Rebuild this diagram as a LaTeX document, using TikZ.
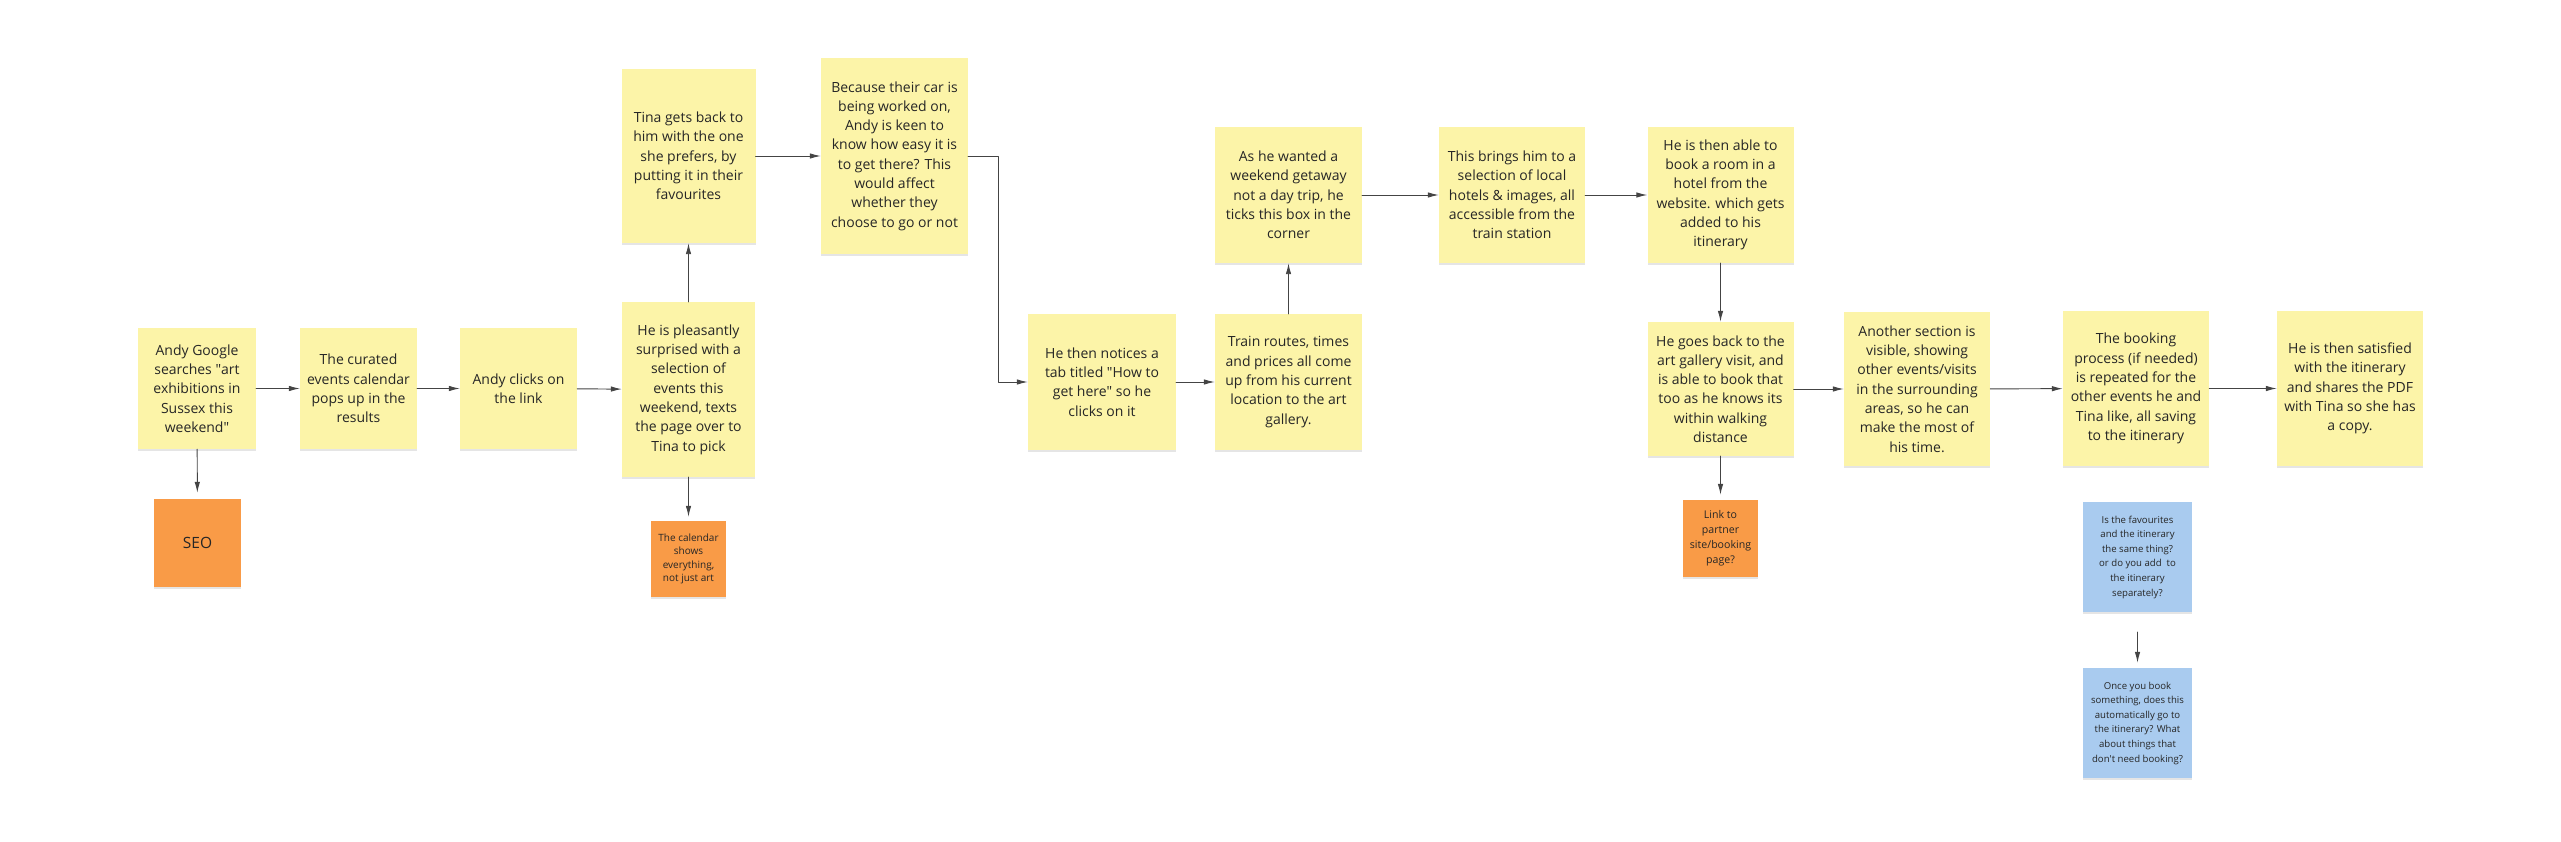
\documentclass[tikz,border=0pt]{standalone}
\usepackage{fontspec}
\setmainfont{Open Sans}
\usetikzlibrary{arrows.meta}
\usetikzlibrary{shadows}
\definecolor{notey}{HTML}{FCF4A8}
\definecolor{noteo}{HTML}{F99B47}
\definecolor{noteb}{HTML}{A9CBEF}
\definecolor{inkc}{HTML}{262626}
\definecolor{linec}{HTML}{444444}

\begin{document}
\begin{tikzpicture}[line cap=round,line join=round,>={Latex[length=11pt,width=5.5pt]},x=1pt,y=-1pt,
  card/.style 2 args={minimum width=#1pt,minimum height=#2pt,inner sep=0pt,align=center,text=inkc,
    drop shadow={shadow xshift=0pt,shadow yshift=-1.5pt,fill=black,opacity=0.10}},
  yel/.style={fill=notey,font=\fontsize{14}{19.3}\selectfont},
  ora/.style={fill=noteo},
  blu/.style={fill=noteb,font=\fontsize{9.6}{14.6}\selectfont},
  flow/.style={->,draw=linec,line width=0.95pt}]
\useasboundingbox (0,0) rectangle (2561,841);

% first row, left part
\node [yel,card={118}{121}] (andy) at (197,388.5) {Andy Google\\searches \textquotedbl art\\exhibitions in\\Sussex this\\weekend\textquotedbl};
\node [yel,card={117}{121}] (curated) at (358.5,388.5) {The curated\\events calendar\\pops up in the\\results};
\node [yel,card={117}{121}] (clicks) at (518.5,388.5) {Andy clicks on\\the link};
\node [yel,card={133}{175}] (pleased) at (688.5,389.5) {He is pleasantly\\surprised with a\\selection of\\events this\\weekend, texts\\the page over to\\Tina to pick};
\node [yel,card={134}{174}] (tina) at (688.5,156) {Tina gets back to\\him with the one\\she prefers, by\\putting it in their\\favourites};
\node [yel,card={147}{196}] (car) at (894.5,156) {Because their car is\\being worked on,\\Andy is keen to\\know how easy it is\\to get there? This\\would affect\\whether they\\choose to go or not};
\node [ora,card={87}{88},font=\fontsize{15.5}{18}\selectfont] (seo) at (197.5,543) {SEO};
\node [ora,card={75}{76},font=\fontsize{10}{13.4}\selectfont] (calendar) at (688.5,559) {The calendar\\shows\\everything,\\not just art};

% travel and hotel
\node [yel,card={148}{136}] (tab) at (1102,382) {He then notices a\\tab titled \textquotedbl How to\\get here\textquotedbl{} so he\\clicks on it};
\node [yel,card={147}{136}] (train) at (1288.5,382) {Train routes, times\\and prices all come\\up from his current\\location to the art\\gallery.};
\node [yel,card={147}{136}] (getaway) at (1288.5,195) {As he wanted a\\weekend getaway\\not a day trip, he\\ticks this box in the\\corner};
\node [yel,card={146}{136}] (hotels) at (1512,195) {This brings him to a\\selection of local\\hotels \& images, all\\accessible from the\\train station};
\node [yel,card={146}{136}] (book) at (1720.5,195) {He is then able to\\book a room in a\\hotel from the\\website. which gets\\added to his\\itinerary};

% back to the gallery
\node [yel,card={146}{134}] (gallery) at (1720.5,389) {He goes back to the\\art gallery visit, and\\is able to book that\\too as he knows its\\within walking\\distance};
\node [yel,card={146}{154}] (section) at (1917,389) {Another section is\\visible, showing\\other events/visits\\in the surrounding\\areas, so he can\\make the most of\\his time.};
\node [yel,card={146}{155}] (repeat) at (2136,388.5) {The booking\\process (if needed)\\is repeated for the\\other events he and\\Tina like, all saving\\to the itinerary};
\node [yel,card={146}{155}] (share) at (2350,388.5) {He is then satisfied\\with the itinerary\\and shares the PDF\\with Tina so she has\\a copy.};
\node [ora,card={75}{77},font=\fontsize{10.6}{15}\selectfont] (partner) at (1720.5,538.5) {Link to\\partner\\site/booking\\page?};
\node [blu,card={109}{110}] (quest1) at (2137.5,557) {Is the favourites\\and the itinerary\\the same thing?\\or do you add~ to\\the itinerary\\separately?};
\node [blu,card={109}{110}] (quest2) at (2137.5,723) {Once you book\\something, does this\\automatically go to\\the itinerary? What\\about things that\\don\textquotesingle t need booking?};

\draw [flow] (andy) -- (curated);
\draw [flow] (curated) -- (clicks);
\draw [flow] (clicks) -- (pleased);
\draw [flow,shorten >=6pt] (andy) -- (seo);
\draw [flow,shorten >=4pt] (pleased) -- (calendar);
\draw [flow] (pleased) -- (tina);
\draw [flow] (tina) -- (car);
\draw [flow] (car.east) -- ++(30,0) |- (tab.west);
\draw [flow] (tab) -- (train);
\draw [flow] (train) -- (getaway);
\draw [flow] (getaway) -- (hotels);
\draw [flow] (hotels) -- (book);
\draw [flow] (book) -- (gallery);
\draw [flow,shorten >=5pt] (gallery) -- (partner);
\draw [flow] (gallery) -- (section);
\draw [flow] (section) -- (repeat);
\draw [flow] (repeat) -- (share);
\draw [flow,shorten <=20pt,shorten >=5pt] (quest1) -- (quest2);
\end{tikzpicture}
\end{document}
